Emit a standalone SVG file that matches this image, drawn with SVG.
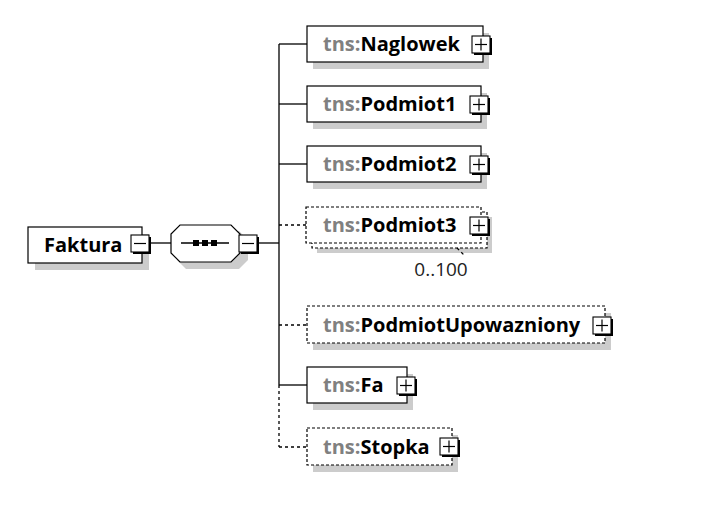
<svg xmlns="http://www.w3.org/2000/svg" width="715" height="508" viewBox="0 0 715 508">
<defs>
<style>
.box{fill:#fff;stroke:#000;stroke-width:1.2}
.dbox{fill:#fff;stroke:#000;stroke-width:1.2;stroke-dasharray:3,2}
.sh{fill:#cccccc}
.ln{stroke:#000;stroke-width:1.3;fill:none}
.dl{stroke:#000;stroke-width:1.3;fill:none;stroke-dasharray:3,3}
.t{font-family:"Open Sans","Liberation Sans",sans-serif;font-size:20px;font-weight:bold;fill:#000}
.p{fill:#808080}
.m{font-family:"Open Sans","Liberation Sans",sans-serif;font-size:19px;fill:#222}
.pb{fill:#fff;stroke:#000;stroke-width:1.1}
</style>
<g id="plus">
<rect x="2" y="2" width="18" height="17" fill="#000"/>
<rect x="0" y="0" width="18" height="17" class="pb"/>
<line x1="3" y1="8.5" x2="15" y2="8.5" stroke="#000" stroke-width="1.2"/>
<line x1="9" y1="2.5" x2="9" y2="14.5" stroke="#000" stroke-width="1.2"/>
</g>
<g id="minus">
<rect x="2" y="2" width="18" height="17" fill="#000"/>
<rect x="0" y="0" width="18" height="17" class="pb"/>
<line x1="3" y1="8.5" x2="15" y2="8.5" stroke="#000" stroke-width="1.2"/>
</g>
</defs>
<rect width="715" height="508" fill="#fff"/>

<g id="connectors">
<line class="ln" x1="151" y1="243" x2="171" y2="243"/>
<line class="ln" x1="259" y1="243" x2="279" y2="243"/>
<line class="ln" x1="279" y1="44" x2="279" y2="385"/>
<line class="dl" x1="279" y1="385" x2="279" y2="447"/>
<line class="ln" x1="279" y1="44" x2="307" y2="44"/>
<line class="ln" x1="279" y1="104" x2="307" y2="104"/>
<line class="ln" x1="279" y1="164" x2="307" y2="164"/>
<line class="dl" x1="279" y1="225" x2="306" y2="225"/>
<line class="dl" x1="279" y1="325" x2="307" y2="325"/>
<line class="ln" x1="279" y1="385" x2="307" y2="385"/>
<line class="dl" x1="279" y1="447" x2="307" y2="447"/>
</g>

<g id="Faktura">
<rect class="sh" x="35" y="234" width="114" height="36"/>
<rect class="box" x="28" y="227" width="114" height="36"/>
<text class="t" x="44" y="252">Faktura</text>
<use href="#minus" x="131" y="235"/>
</g>

<g id="sequence">
<polygon class="sh" points="186,231 239,231 248,240 248,260 239,269 186,269 177,260 177,240"/>
<polygon class="box" points="180,225 231,225 240,234 240,253 231,262 180,262 171,253 171,234"/>
<line class="ln" x1="181" y1="243" x2="229" y2="243"/>
<rect x="193" y="240" width="6" height="6" fill="#000"/>
<rect x="202" y="240" width="6" height="6" fill="#000"/>
<rect x="211" y="240" width="6" height="6" fill="#000"/>
<use href="#minus" x="239" y="235"/>
</g>

<g id="Naglowek">
<rect class="sh" x="313" y="33" width="176" height="36"/>
<rect class="box" x="307" y="26" width="176" height="36"/>
<text class="t" x="323" y="51"><tspan class="p">tns:</tspan>Naglowek</text>
<use href="#plus" x="472" y="36"/>
</g>

<g id="Podmiot1">
<rect class="sh" x="313" y="93" width="174" height="36"/>
<rect class="box" x="307" y="86" width="174" height="36"/>
<text class="t" x="323" y="111"><tspan class="p">tns:</tspan>Podmiot1</text>
<use href="#plus" x="470" y="96"/>
</g>

<g id="Podmiot2">
<rect class="sh" x="313" y="153" width="174" height="36"/>
<rect class="box" x="307" y="146" width="174" height="36"/>
<text class="t" x="323" y="171"><tspan class="p">tns:</tspan>Podmiot2</text>
<use href="#plus" x="470" y="156"/>
</g>

<g id="Podmiot3">
<rect class="sh" x="317" y="217" width="175" height="36"/>
<rect class="dbox" x="312" y="212" width="175" height="36"/>
<rect class="dbox" x="306" y="207" width="175" height="36"/>
<text class="t" x="323" y="232"><tspan class="p">tns:</tspan>Podmiot3</text>
<use href="#plus" x="470" y="217"/>
<line class="dl" x1="457" y1="248" x2="465" y2="256" stroke-width="1"/>
<text class="m" x="441" y="276" text-anchor="middle">0..100</text>
</g>

<g id="PodmiotUpowazniony">
<rect class="sh" x="313" y="313" width="298" height="37"/>
<rect class="dbox" x="307" y="306" width="298" height="37"/>
<text class="t" x="323" y="332"><tspan class="p">tns:</tspan>PodmiotUpowazniony</text>
<use href="#plus" x="593" y="317"/>
</g>

<g id="Fa">
<rect class="sh" x="313" y="374" width="100" height="36"/>
<rect class="box" x="307" y="367" width="100" height="36"/>
<text class="t" x="323" y="392"><tspan class="p">tns:</tspan>Fa</text>
<use href="#plus" x="397" y="377"/>
</g>

<g id="Stopka">
<rect class="sh" x="313" y="435" width="145" height="37"/>
<rect class="dbox" x="307" y="428" width="145" height="37"/>
<text class="t" x="323" y="454"><tspan class="p">tns:</tspan>Stopka</text>
<use href="#plus" x="440" y="438"/>
</g>
</svg>
